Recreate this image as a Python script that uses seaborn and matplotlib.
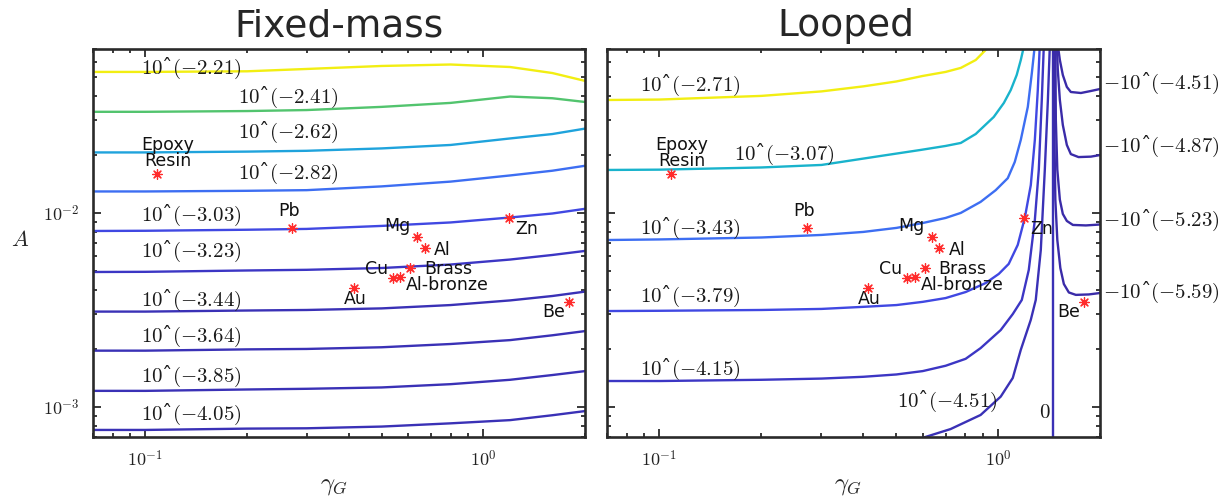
import matplotlib
matplotlib.use("Agg")
import matplotlib.pyplot as plt
import seaborn as sns
from matplotlib.ticker import NullFormatter

# ---------------- data ----------------
# Fixed-mass: every contour sampled at the same gamma values
fm_gamma = [0.07, 0.1, 0.2, 0.3, 0.5, 0.8, 1.2, 1.6, 2.0]
fm_a_221 = [0.0533, 0.0533, 0.0537, 0.0552, 0.0572, 0.0582, 0.0565, 0.0526, 0.0479]
fm_a_241 = [0.0332, 0.0332, 0.0335, 0.0339, 0.0352, 0.0369, 0.0398, 0.0390, 0.0373]
fm_a_262 = [0.0205, 0.0205, 0.0207, 0.0209, 0.0215, 0.0224, 0.0242, 0.0255, 0.0272]
fm_a_282 = [0.0129, 0.0129, 0.0130, 0.0131, 0.0137, 0.0145, 0.0156, 0.0165, 0.0175]
fm_a_303 = [0.00807, 0.00809, 0.00819, 0.00827, 0.00857, 0.00893, 0.00947, 0.00993, 0.0105]
fm_a_323 = [0.00496, 0.00497, 0.00505, 0.00509, 0.00520, 0.00542, 0.00575, 0.00607, 0.00637]
fm_a_344 = [0.00310, 0.00310, 0.00314, 0.00316, 0.00322, 0.00335, 0.00354, 0.00373, 0.00393]
fm_a_364 = [0.00195, 0.00195, 0.00198, 0.00199, 0.00203, 0.00211, 0.00221, 0.00234, 0.00246]
fm_a_385 = [0.00121, 0.00121, 0.00123, 0.00124, 0.00126, 0.00131, 0.00138, 0.00146, 0.00153]
fm_a_405 = [0.000761, 0.000761, 0.000773, 0.000776, 0.000792, 0.000823, 0.000855, 0.000906, 0.000952]
fm_levels = ["-2.21", "-2.41", "-2.62", "-2.82", "-3.03", "-3.23", "-3.44", "-3.64", "-3.85", "-4.05"]

# Looped: positive contours
lp_g_271 = [0.07, 0.1, 0.2, 0.301, 0.4, 0.501, 0.599, 0.70, 0.776, 0.859, 0.919, 0.938]
lp_a_271 = [0.0382, 0.0384, 0.0401, 0.0423, 0.0449, 0.0476, 0.0508, 0.0533, 0.0559, 0.0614, 0.0692, 0.0717]
lp_g_307 = [0.07, 0.1, 0.2, 0.301, 0.45, 0.59, 0.70, 0.776, 0.859, 0.971, 1.04, 1.09, 1.135, 1.167, 1.191]
lp_a_307 = [0.01665, 0.01671, 0.01715, 0.01767, 0.01966, 0.02111, 0.02214, 0.02294, 0.02552, 0.03123,
            0.03688, 0.0430, 0.05141, 0.0614, 0.0717]
lp_g_343 = [0.07, 0.1, 0.2, 0.301, 0.4, 0.501, 0.599, 0.70, 0.776, 0.888, 0.984, 1.068, 1.12, 1.167,
            1.224, 1.258, 1.284]
lp_a_343 = [0.00725, 0.00730, 0.00747, 0.00770, 0.00798, 0.00837, 0.00887, 0.00942, 0.0100, 0.0114,
            0.0131, 0.0151, 0.0183, 0.0238, 0.0352, 0.0526, 0.0734]
lp_g_379 = [0.07, 0.1, 0.2, 0.301, 0.4, 0.501, 0.599, 0.70, 0.802, 0.919, 1.005, 1.075, 1.143, 1.199,
            1.249, 1.284, 1.310, 1.328]
lp_a_379 = [0.00312, 0.00313, 0.00316, 0.00320, 0.00328, 0.00335, 0.00348, 0.00364, 0.00391, 0.00435,
            0.00485, 0.00546, 0.00684, 0.00942, 0.0139, 0.0238, 0.0430, 0.0734]
lp_g_415 = [0.07, 0.1, 0.2, 0.301, 0.4, 0.501, 0.599, 0.70, 0.802, 0.888, 1.018, 1.105, 1.175, 1.232,
            1.284, 1.319, 1.346, 1.365]
lp_a_415 = [0.00136, 0.00136, 0.00138, 0.00140, 0.00143, 0.00147, 0.00153, 0.00163, 0.00177, 0.00201,
            0.00249, 0.00301, 0.00356, 0.00508, 0.00920, 0.0167, 0.0382, 0.0734]
lp_g_451 = [0.571, 0.724, 0.888, 1.018, 1.105, 1.167, 1.249, 1.292, 1.337, 1.374, 1.403, 1.422]
lp_a_451 = [0.000675, 0.000769, 0.000909, 0.00113, 0.00141, 0.00197, 0.00281, 0.00356, 0.00644,
            0.0167, 0.0382, 0.0734]
# Looped: zero contour (vertical) and negative contours
zero_gamma = 1.45
zero_a = [0.00068, 0.072]
lp_g_n451 = [1.501, 1.522, 1.553, 1.596, 1.640, 1.756, 1.879, 2.01]
lp_a_n451 = [0.0734, 0.0614, 0.0514, 0.0446, 0.0420, 0.0415, 0.0425, 0.0436]
lp_g_n487 = [1.491, 1.501, 1.522, 1.553, 1.596, 1.640, 1.728, 1.879, 2.01]
lp_a_n487 = [0.0734, 0.0546, 0.0382, 0.0284, 0.0224, 0.0201, 0.0194, 0.0195, 0.0199]
lp_g_n523 = [1.476, 1.481, 1.496, 1.522, 1.553, 1.596, 1.663, 1.817, 2.01]
lp_a_n523 = [0.0734, 0.0301, 0.0167, 0.0117, 0.00988, 0.00909, 0.00867, 0.00862, 0.00872]
lp_g_n559 = [1.461, 1.466, 1.476, 1.496, 1.527, 1.564, 1.618, 1.697, 1.854, 2.01]
lp_a_n559 = [0.0734, 0.0268, 0.0117, 0.00725, 0.00520, 0.00430, 0.00389, 0.00378, 0.00380, 0.00387]

# materials
mat_names = ["Epoxy\nResin", "Pb", "Mg", "Al", "Zn", "Brass", "Cu", "Al-bronze", "Au", "Be"]
mat_gamma = [0.108, 0.272, 0.636, 0.670, 1.19, 0.607, 0.540, 0.567, 0.414, 1.79]
mat_A = [0.0159, 0.00836, 0.00749, 0.00662, 0.00938, 0.00519, 0.00460, 0.00466, 0.00409, 0.00347]

# ---------------- style ----------------
sns.set_theme(style="ticks")
plt.rcParams["font.family"] = ["DejaVu Sans"]
plt.rcParams["mathtext.fontset"] = "cm"

YEL, GRN, CYN, TEAL = "#f2ee12", "#52c46e", "#1fa3dc", "#19b3cc"
BLU, BLU2, IND, IND2, IND3 = "#3d6ef2", "#4048e2", "#3c36c4", "#3a31b6", "#3a2ba8"

fm_colors = [YEL, GRN, CYN, BLU, BLU2, IND, IND2, IND2, IND2, IND2]
fm_series = [fm_a_221, fm_a_241, fm_a_262, fm_a_282, fm_a_303,
             fm_a_323, fm_a_344, fm_a_364, fm_a_385, fm_a_405]

fig = plt.figure(figsize=(12.31, 4.96), dpi=100)
ax1 = fig.add_axes([0.0756, 0.1190, 0.3997, 0.7823])
ax2 = fig.add_axes([0.4931, 0.1190, 0.4005, 0.7823])

for ax in (ax1, ax2):
    ax.set_xscale("log")
    ax.set_yscale("log")

lw = 1.7
for a, c in zip(fm_series, fm_colors):
    sns.lineplot(x=fm_gamma, y=a, ax=ax1, color=c, lw=lw, sort=False, estimator=None)

lp_lines = [
    (lp_g_271, lp_a_271, YEL), (lp_g_307, lp_a_307, TEAL), (lp_g_343, lp_a_343, BLU),
    (lp_g_379, lp_a_379, BLU2), (lp_g_415, lp_a_415, IND), (lp_g_451, lp_a_451, IND2),
    ([zero_gamma, zero_gamma], zero_a, IND2),
    (lp_g_n451, lp_a_n451, IND3), (lp_g_n487, lp_a_n487, IND3),
    (lp_g_n523, lp_a_n523, IND3), (lp_g_n559, lp_a_n559, IND3),
]
for g, a, c in lp_lines:
    sns.lineplot(x=g, y=a, ax=ax2, color=c, lw=lw, sort=False, estimator=None)

# materials on both panels
label_place = {  # offset in pixels and alignment
    "Epoxy\nResin": (11, 21, "center"), "Pb": (-3, 17, "center"), "Mg": (-20, 11, "center"),
    "Al": (18, -2, "center"), "Zn": (18, -11, "center"), "Brass": (14, -1, "left"),
    "Cu": (-5, 9, "right"), "Al-bronze": (6, -8, "left"), "Au": (1, -11, "center"),
    "Be": (-15, -10, "center"),
}
for ax in (ax1, ax2):
    sns.scatterplot(x=mat_gamma, y=mat_A, ax=ax, marker=(8, 2, 0), s=48,
                    color="#ff2b2b", linewidth=0.9, zorder=5)
    for name, g, a in zip(mat_names, mat_gamma, mat_A):
        dx, dy, ha = label_place[name]
        ax.annotate(name, (g, a), xytext=(dx, dy), textcoords="offset pixels",
                    ha=ha, va="center", fontsize=12.5, linespacing=0.87, color="#111111")

# contour labels
def clabel(ax, x, y, txt, ha="center"):
    ax.text(x, y, txt, transform=ax.transAxes, ha=ha, va="center", fontsize=15,
            family="DejaVu Serif", color="#1a1a1a", clip_on=False)

fm_lab_x = [0.199, 0.396, 0.396, 0.396, 0.199, 0.199, 0.199, 0.199, 0.199, 0.199]
fm_lab_y = [0.951, 0.876, 0.784, 0.678, 0.570, 0.477, 0.351, 0.258, 0.155, 0.057]
for lvl, x, y in zip(fm_levels, fm_lab_x, fm_lab_y):
    clabel(ax1, x, y, f"$10$ˆ$({lvl})$")

lp_levels = ["-2.71", "-3.07", "-3.43", "-3.79", "-4.15", "-4.51"]
lp_lab_x = [0.168, 0.359, 0.168, 0.168, 0.168, 0.690]
lp_lab_y = [0.907, 0.727, 0.538, 0.362, 0.173, 0.091]
for lvl, x, y in zip(lp_levels, lp_lab_x, lp_lab_y):
    clabel(ax2, x, y, f"$10$ˆ$({lvl})$")
clabel(ax2, 0.888, 0.062, "$0$")
neg_levels = ["-4.51", "-4.87", "-5.23", "-5.59"]
neg_lab_y = [0.912, 0.748, 0.559, 0.373]
for lvl, y in zip(neg_levels, neg_lab_y):
    clabel(ax2, 1.006, y, f"$-10$ˆ$({lvl})$", ha="left")

# axes cosmetics
for ax in (ax1, ax2):
    ax.set_xlim(0.07, 2.0)
    ax.set_ylim(7e-4, 7e-2)
    ax.set_xticks([0.1, 1.0])
    ax.set_xticklabels([r"$10^{-1}$", r"$10^{0}$"])
    ax.set_yticks([1e-3, 1e-2])
    ax.set_yticklabels([r"$10^{-3}$", r"$10^{-2}$"])
    ax.xaxis.set_minor_formatter(NullFormatter())
    ax.yaxis.set_minor_formatter(NullFormatter())
    ax.tick_params(which="both", direction="in", top=True, right=True,
                   color="#2a2a2a", width=1.3, labelsize=13, labelcolor="#222222")
    ax.tick_params(which="major", length=5.5)
    ax.tick_params(which="minor", length=3)
    ax.tick_params(axis="x", pad=9)
    ax.tick_params(axis="y", pad=10)
    for s in ax.spines.values():
        s.set_linewidth(1.9)
        s.set_color("#2a2a2a")
    ax.set_xlabel(r"$\gamma_G$", fontsize=18)
    ax.xaxis.set_label_coords(0.49, -0.125)
    ax.xaxis.label.set_va("center")

ax2.tick_params(labelleft=False)
ax1.set_ylabel(r"$A$", fontsize=16, rotation=0)
ax1.yaxis.set_label_coords(-0.148, 0.508)
ax1.yaxis.label.set_va("center")
ax1.yaxis.label.set_ha("center")
ax2.set_ylabel("")

ax1.set_title("Fixed-mass", fontsize=27, pad=9)
ax2.set_title("Looped", fontsize=27, pad=9, x=0.485)

fig.savefig("out.png", dpi=100)
